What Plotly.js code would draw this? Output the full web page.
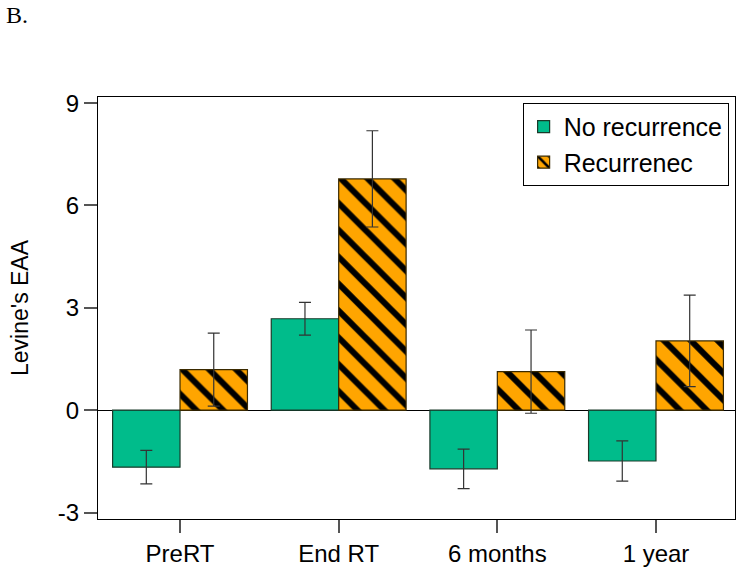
<!DOCTYPE html>
<html>
<head>
<meta charset="utf-8">
<script src="https://cdn.plot.ly/plotly-3.0.1.min.js"></script>
<style>html,body{margin:0;padding:0;background:#fff;}#chart{width:737px;height:569px;}</style>
</head>
<body>
<div id="chart"></div>
<script>
const categories = ["PreRT", "End RT", "6 months", "1 year"];
const noRecurrence = [-1.67, 2.68, -1.72, -1.49];
const noRecurrenceErr = [0.49, 0.48, 0.58, 0.59];
const recurrence = [1.19, 6.78, 1.13, 2.03];
const recurrenceErr = [1.07, 1.41, 1.22, 1.34];
const yTicks = [-3, 0, 3, 6, 9];

const traces = [
  {
    type: "bar", name: "No recurrence", x: categories, y: noRecurrence,
    marker: {color: "#00BC8B", line: {color: "#1a3a2a", width: 1.2}},
    error_y: {type: "data", array: noRecurrenceErr, visible: true, color: "#333", thickness: 1.2, width: 6}
  },
  {
    type: "bar", name: "Recurrenec", x: categories, y: recurrence,
    marker: {color: "#FFA500", line: {color: "#3a2a00", width: 1.2},
      pattern: {shape: "\\", fgcolor: "#000", bgcolor: "#FFA500", fgopacity: 1, size: 19, solidity: 0.32, fillmode: "overlay"}},
    error_y: {type: "data", array: recurrenceErr, visible: true, color: "#333", thickness: 1.2, width: 6}
  }
];

const layout = {
  width: 737, height: 569,
  margin: {l: 98, r: 2, t: 97, b: 50},
  paper_bgcolor: "#fff", plot_bgcolor: "#fff",
  font: {family: "Liberation Sans, Arial, sans-serif", size: 24, color: "#000"},
  barmode: "group", bargap: 0.15, bargroupgap: 0,
  showlegend: true,
  legend: {x: 0.99, xanchor: "right", y: 0.986, yanchor: "top", bgcolor: "#fff",
    bordercolor: "#000", borderwidth: 1, font: {size: 25}, tracegroupgap: 0, itemwidth: 30},
  xaxis: {range: [-0.517, 3.498], showline: true, mirror: true, linecolor: "#000", linewidth: 1,
    ticks: "outside", ticklen: 13, tickcolor: "#555", tickwidth: 1.5, showgrid: false, zeroline: false,
    tickfont: {size: 24}},
  yaxis: {range: [-3.19, 9.18], tickvals: yTicks, ticktext: yTicks.map(String),
    showline: true, mirror: true, linecolor: "#000", linewidth: 1,
    ticks: "outside", ticklen: 13, tickcolor: "#555", tickwidth: 1.5, showgrid: false,
    zeroline: true, zerolinecolor: "#000", zerolinewidth: 1,
    tickfont: {size: 24},
    title: {text: "Levine's EAA", font: {size: 23}, standoff: 22}},
  annotations: [{text: "B.", xref: "paper", yref: "paper", x: -0.148, y: 1.23, xanchor: "left", yanchor: "top",
    showarrow: false, font: {family: "Liberation Serif, Times New Roman, serif", size: 24, color: "#000"}}]
};

Plotly.newPlot("chart", traces, layout, {displayModeBar: false});
</script>
</body>
</html>
